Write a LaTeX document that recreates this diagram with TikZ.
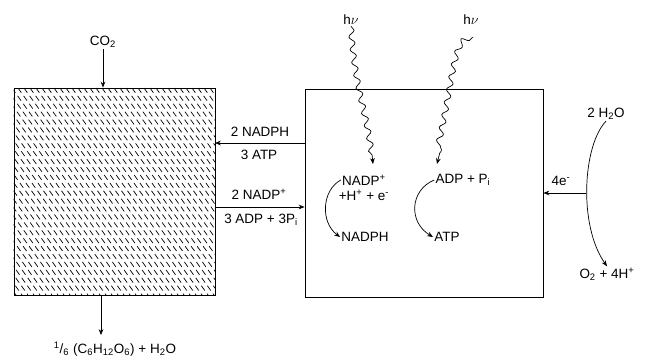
\documentclass[tikz,border=0pt]{standalone}
\usepackage{fontspec}
\setmainfont{Liberation Sans}
\usetikzlibrary{arrows.meta,decorations.pathmorphing}

\newcommand{\lo}[1]{\textsubscript{#1}}
\newcommand{\hi}[1]{\textsuperscript{#1}}

\tikzset{
  box/.style={draw,line width=0.8pt,inner sep=0pt},
  lbl/.style={font=\fontsize{11.5}{13}\selectfont,inner sep=1pt},
  arr/.style={-{Stealth[length=5pt,width=4pt]},line width=0.6pt},
  hatch/.style={line width=0.6pt,dash pattern=on 5pt off 3.3pt},
  photon/.style={arr,decorate,decoration={snake,segment length=11pt,amplitude=2.4pt,post length=5pt}},
}

\begin{document}
\begin{tikzpicture}[x=0.03cm,y=-0.03cm]
  \useasboundingbox (0,0) rectangle (645,357);

  % boxes
  \node[box,minimum width=6.03cm,minimum height=6.21cm] (calvin) at (114.5,191.5) {};
  \node[box,minimum width=7.14cm,minimum height=6.24cm] (thyl) at (424,193) {};

  % hatching of the left box
  \begin{scope}
    \clip (calvin.south west) rectangle (calvin.north east);
    \foreach \x in {-150,-144,...,216}
      \draw[hatch] (\x,88) -- (\x+148,295);
  \end{scope}

  % carbon side
  \node[lbl] (co2) at (103,42) {CO\lo{2}};
  \draw[arr] (co2.south) -- (co2.south |- calvin.north);
  \node[lbl] (sugar) at (115,349) {\hi{1}/\lo{6} (C\lo{6}H\lo{12}O\lo{6}) + H\lo{2}O};
  \coordinate (sugtop) at (101,335);
  \draw[arr] (sugtop |- calvin.south) -- (sugtop);

  % exchange between boxes
  \coordinate (out) at (215,143);
  \coordinate (back) at (215,207);
  \draw[arr] (out -| thyl.west) -- (out);
  \draw[arr] (back) -- (back -| thyl.west);
  \node[lbl] (nadph) at (260,132) {2 NADPH};
  \node[lbl] (atp) at (259,155) {3 ATP};
  \node[lbl] (nadp) at (259,194) {2 NADP\hi{+}};
  \node[lbl] (adp) at (261,220) {3 ADP + 3P\lo{i}};

  % light
  \node[lbl] (hv1) at (351,20) {h$\nu$};
  \node[lbl] (hv2) at (471,20) {h$\nu$};
  \coordinate (tip1) at (373,164);
  \coordinate (tip2) at (437,164);
  \draw[photon] (hv1.south) .. controls (355,90) and (368,110) .. (tip1);
  \draw[photon] (473,37) .. controls (455,40) and (458,80) .. (tip2);

  % reactions inside
  \node[lbl] (nadpin) at (364,180) {NADP\hi{+}};
  \node[lbl] (hpe) at (364,195) {+H\hi{+} + e\hi{-}};
  \node[lbl] (nadphin) at (365,237) {NADPH};
  \draw[arr] (nadpin.west) .. controls (322,190) and (320,222) .. (nadphin.west);
  \node[lbl] (adpin) at (463,180) {ADP + P\lo{i}};
  \node[lbl] (atpin) at (447,237) {ATP};
  \draw[arr] (adpin.west) .. controls (410,190) and (408,222) .. (atpin.west);

  % water splitting
  \node[lbl] (water) at (606,114) {2 H\lo{2}O};
  \node[lbl] (oxy) at (607,274) {O\lo{2} + 4H\hi{+}};
  \draw[arr] (water.south) .. controls (583,145) and (578,225) .. (oxy.north);
  \coordinate (esrc) at (586,193);
  \draw[arr] (esrc) -- (esrc -| thyl.east);
  \node[lbl] (elec) at (561,181) {4e\hi{-}};
\end{tikzpicture}
\end{document}
